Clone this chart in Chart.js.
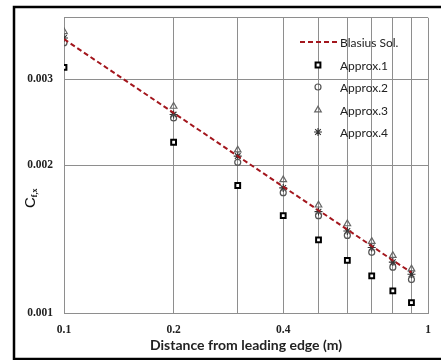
<!DOCTYPE html>
<html>
<head>
<meta charset="utf-8">
<script src="https://cdn.jsdelivr.net/npm/chart.js@4.4.1/dist/chart.umd.min.js"></script>
<style>
  body { margin: 0; background: #fff; }
  #wrap { width: 441px; height: 360px; }
</style>
</head>
<body>
<div id="wrap"><canvas id="cfChart" width="441" height="360"></canvas></div>
<script>
// distance from leading edge (m)
const xValues = [0.1, 0.2, 0.3, 0.4, 0.5, 0.6, 0.7, 0.8, 0.9];
// skin friction coefficient
const blasius = [0.00362, 0.00256, 0.00209, 0.00181, 0.00162, 0.00148, 0.00137, 0.00128, 0.00121];
const approx1 = [0.00317, 0.00223, 0.00182, 0.00158, 0.00141, 0.00128, 0.00119, 0.00111, 0.00105];
const approx2 = [0.00356, 0.00250, 0.00203, 0.00176, 0.00158, 0.00144, 0.00133, 0.00124, 0.00117];
const approx3 = [0.00375, 0.00264, 0.00215, 0.00187, 0.00166, 0.00152, 0.00140, 0.00131, 0.00123];
const approx4 = [0.00364, 0.00254, 0.00209, 0.00180, 0.00161, 0.00147, 0.00136, 0.00127, 0.00120];

const xGridTicks = [0.1, 0.2, 0.3, 0.4, 0.5, 0.6, 0.7, 0.8, 0.9, 1];
const xTickLabels = [0.1, 0.2, 0.4, 1];
const yGridTicks = [0.001, 0.002, 0.003, 0.004];
const yTickLabels = [0.001, 0.002, 0.003];

const toPoints = ys => xValues.map((x, i) => ({ x: x, y: ys[i] }));
const gridColor = '#8e8e8e';
const tickFont = { family: '"Liberation Serif", serif', size: 11.5, weight: 'bold' };

const datasets = [
  {
    label: 'Blasius Sol.', type: 'line', data: toPoints(blasius),
    borderColor: '#a3161d', borderWidth: 2, borderDash: [5, 3],
    pointRadius: 0, fill: false, tension: 0
  },
  {
    label: 'Approx.1', data: toPoints(approx1), showLine: false,
    pointStyle: 'rect', pointRadius: 3.4, borderColor: '#000', borderWidth: 2,
    backgroundColor: '#fff'
  },
  {
    label: 'Approx.2', data: toPoints(approx2), showLine: false,
    pointStyle: 'circle', pointRadius: 3, borderColor: '#555', borderWidth: 1.2,
    backgroundColor: 'rgba(0,0,0,0)'
  },
  {
    label: 'Approx.3', data: toPoints(approx3), showLine: false,
    pointStyle: 'triangle', pointRadius: 3.8, borderColor: '#666', borderWidth: 1.2,
    backgroundColor: 'rgba(0,0,0,0)'
  },
  {
    label: 'Approx.4', data: toPoints(approx4), showLine: false,
    pointStyle: 'star', pointRadius: 4, borderColor: '#333', borderWidth: 1.1,
    backgroundColor: 'rgba(0,0,0,0)'
  }
];

// outer frame, y axis title with subscript, legend inside the plot
const decorPlugin = {
  id: 'decor',
  afterDraw(chart) {
    const ctx = chart.ctx;
    ctx.save();

    ctx.strokeStyle = '#000';
    ctx.lineWidth = 2.5;
    ctx.strokeRect(14, 7, 460, 352);

    // y title: C f,x
    ctx.translate(31, 198);
    ctx.rotate(-Math.PI / 2);
    ctx.fillStyle = '#111';
    ctx.textBaseline = 'middle';
    ctx.textAlign = 'left';
    ctx.font = '15px "Liberation Sans", sans-serif';
    const cw = ctx.measureText('C').width;
    ctx.fillText('C', -10, 0);
    ctx.font = 'bold 8px "Liberation Serif", serif';
    ctx.fillText('f,x', -10 + cw, 4);
    ctx.setTransform(1, 0, 0, 1, 0, 0);

    // legend
    const lx = 318, tx = 340;
    const rows = [42, 65, 87, 110, 132];
    ctx.font = '12px Lato, sans-serif';
    ctx.textAlign = 'left';
    ctx.textBaseline = 'middle';
    chart.data.datasets.forEach((ds, i) => {
      const y = rows[i];
      if (ds.type === 'line') {
        ctx.strokeStyle = ds.borderColor;
        ctx.lineWidth = ds.borderWidth;
        ctx.setLineDash(ds.borderDash);
        ctx.beginPath();
        ctx.moveTo(300, y);
        ctx.lineTo(338, y);
        ctx.stroke();
        ctx.setLineDash([]);
      } else {
        ctx.strokeStyle = ds.borderColor;
        ctx.fillStyle = ds.backgroundColor;
        ctx.lineWidth = ds.borderWidth;
        Chart.helpers.drawPoint(ctx, {
          pointStyle: ds.pointStyle, radius: ds.pointRadius,
          rotation: 0, borderWidth: ds.borderWidth
        }, lx, y);
      }
      ctx.fillStyle = '#222';
      ctx.fillText(ds.label, tx, y + 1);
    });
    ctx.restore();
  }
};

new Chart(document.getElementById('cfChart'), {
  type: 'scatter',
  data: { datasets: datasets },
  options: {
    responsive: false,
    animation: false,
    layout: { padding: { top: 17, right: 5, left: 0, bottom: 0 } },
    plugins: { legend: { display: false }, tooltip: { enabled: false } },
    scales: {
      x: {
        type: 'logarithmic', min: 0.1, max: 1,
        afterBuildTicks: s => { s.ticks = xGridTicks.map(v => ({ value: v })); },
        afterFit: s => { s.height = 47; },
        grid: { color: gridColor, drawTicks: false },
        border: { color: gridColor },
        ticks: {
          autoSkip: false, maxRotation: 0, padding: 10, color: '#222', font: tickFont,
          callback: v => xTickLabels.includes(v) ? String(v) : ''
        },
        title: {
          display: true, text: 'Distance from leading edge (m)', color: '#222',
          font: { family: 'Lato, sans-serif', size: 14, weight: 'bold' },
          padding: { top: 0, bottom: 6 }
        }
      },
      y: {
        type: 'logarithmic', min: 0.001, max: 0.004,
        afterBuildTicks: s => { s.ticks = yGridTicks.map(v => ({ value: v })); },
        afterFit: s => { s.width = 64; },
        grid: { color: gridColor, drawTicks: false },
        border: { color: gridColor },
        ticks: {
          autoSkip: false, padding: 11, color: '#222', font: tickFont,
          callback: v => yTickLabels.includes(v) ? String(v) : ''
        }
      }
    }
  },
  plugins: [decorPlugin]
});
</script>
</body>
</html>
